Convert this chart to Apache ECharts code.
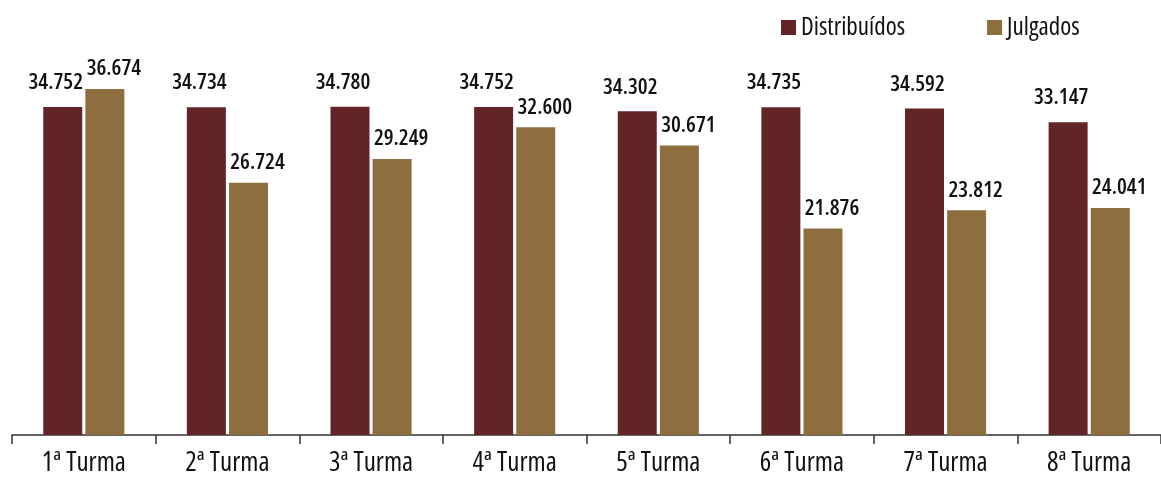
<!DOCTYPE html>
<html>
<head>
<meta charset="utf-8">
<script src="https://cdn.jsdelivr.net/npm/echarts@6/dist/echarts.min.js"></script>
<style>
  html, body { margin: 0; padding: 0; background: #fff; }
  #chart { width: 1161px; height: 487px; }
</style>
</head>
<body>
<div id="chart"></div>
<script>
const turmas = ["1ª Turma", "2ª Turma", "3ª Turma", "4ª Turma", "5ª Turma", "6ª Turma", "7ª Turma", "8ª Turma"];
const distribuidos = [34752, 34734, 34780, 34752, 34302, 34735, 34592, 33147];
const julgados = [36674, 26724, 29249, 32600, 30671, 21876, 23812, 24041];

// narrow font: Open Sans with the condensed stretch (passed through fontWeight)
const FONT = "'Open Sans', sans-serif";
const fmt = (v) => (v / 1000).toFixed(3);

const chart = echarts.init(document.getElementById("chart"));
chart.setOption({
  animation: false,
  legend: {
    top: 10,
    left: 776,
    itemWidth: 15,
    itemHeight: 15,
    itemGap: 82,
    icon: "rect",
    textStyle: { fontSize: 25, color: "#111", fontFamily: FONT, fontWeight: "500 condensed" },
    data: ["Distribuídos", "Julgados"]
  },
  grid: { left: 12, right: 0, top: 57.5, bottom: 52 },
  xAxis: {
    type: "category",
    data: turmas,
    axisLine: { lineStyle: { color: "#333", width: 1.5 } },
    axisTick: { show: true, length: 9, lineStyle: { color: "#333", width: 1.5 } },
    axisLabel: { fontSize: 27, color: "#111", margin: 15, fontFamily: FONT, fontWeight: "500 condensed" }
  },
  yAxis: { type: "value", min: 0, max: 40000, show: false },
  series: [
    {
      name: "Distribuídos",
      type: "bar",
      data: distribuidos,
      barWidth: 39,
      barGap: "8%",
      itemStyle: { color: "#622426" },
      label: {
        show: true, position: "top", distance: 13, offset: [-7, 0],
        fontSize: 22, color: "#111", fontFamily: FONT, fontWeight: "600 condensed",
        formatter: (p) => fmt(p.value)
      }
    },
    {
      name: "Julgados",
      type: "bar",
      data: julgados,
      barWidth: 39,
      itemStyle: { color: "#8e6e3e" },
      label: {
        show: true, position: "top", distance: 9, offset: [9, 0],
        fontSize: 22, color: "#111", fontFamily: FONT, fontWeight: "600 condensed",
        formatter: (p) => fmt(p.value)
      }
    }
  ]
});
</script>
</body>
</html>
